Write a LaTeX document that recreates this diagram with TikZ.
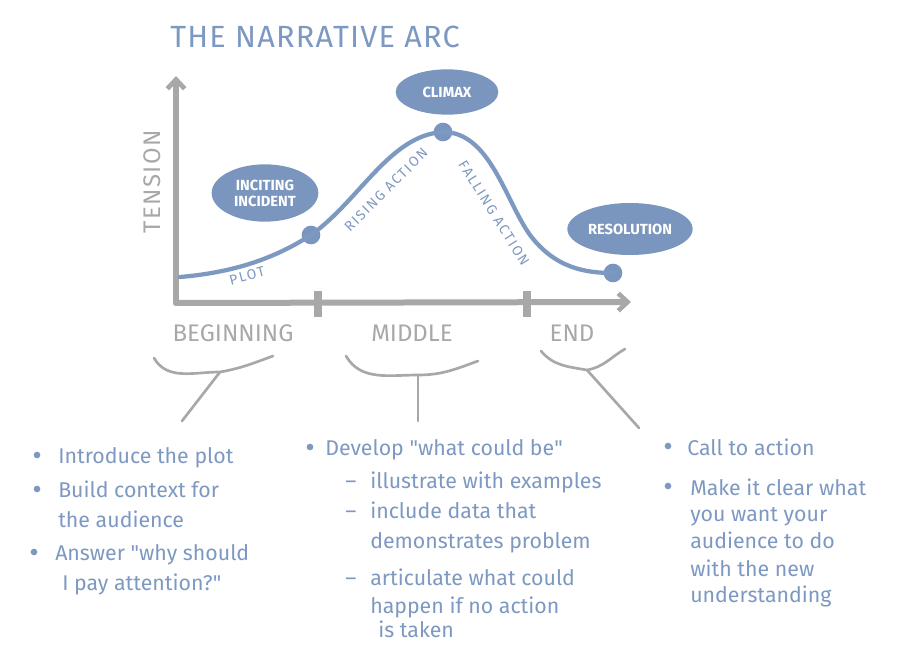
\documentclass[tikz,border=0pt]{standalone}
\usepackage{fontspec}
\setmainfont{Fira Sans}
\usetikzlibrary{shapes.geometric,arrows.meta}
\definecolor{arcblue}{HTML}{7D98C1}
\definecolor{blobblue}{HTML}{7A96BF}
\definecolor{axisgray}{HTML}{A8A8A8}
\begin{document}
\begin{tikzpicture}[x=0.75pt,y=-0.75pt,
  blob/.style={ellipse, fill=blobblue, text=white, font=\fontsize{11}{12}\selectfont\bfseries, inner sep=0pt, align=center},
  dot/.style={circle, fill=blobblue, minimum size=14pt, inner sep=0pt},
  axisline/.style={draw=axisgray, line width=4.5pt, line cap=round},
  brace/.style={draw=axisgray, line width=2pt, line cap=round},
  curve/.style={draw=arcblue, line width=3.2pt, line cap=round},
  txt/.style={anchor=base west, inner sep=0pt, text=arcblue, font=\fontsize{16}{18}\selectfont},
  bul/.style={circle, fill=arcblue, minimum size=5pt, inner sep=0pt},
  axlabel/.style={text=axisgray, font=\fontsize{18}{20}\selectfont, anchor=base, inner sep=0pt},
  curvelabel/.style={text=arcblue, font=\fontsize{10.5}{12}\selectfont\addfontfeature{LetterSpace=12}, inner sep=0pt}
]
\useasboundingbox (0,0) rectangle (921,656);

% title
\node[anchor=base west, inner sep=0pt, text=arcblue, font=\fontsize{23}{25}\selectfont\addfontfeature{LetterSpace=4}] (title) at (170,48) {THE NARRATIVE ARC};

% axes
\coordinate (origin) at (176,303);
\coordinate (ytop) at (176,76);
\coordinate (xend) at (631,302);
\draw[axisline, -{Straight Barb[length=7pt,width=13pt,line width=3.5pt]}] (origin) -- (ytop);
\draw[axisline, -{Straight Barb[length=7pt,width=13pt,line width=3.5pt]}] (origin) -- (xend);
\coordinate (t1a) at (318,291); \coordinate (t1b) at (318,317);
\coordinate (t2a) at (527,291); \coordinate (t2b) at (527,317);
\draw[axisline, line width=5.5pt, line cap=butt] (t1a) -- (t1b);
\draw[axisline, line width=5.5pt, line cap=butt] (t2a) -- (t2b);

\node[text=axisgray, font=\fontsize{18}{20}\selectfont\addfontfeature{LetterSpace=6}, rotate=90, inner sep=0pt] (tension) at (152,182) {TENSION};

% axis labels
\node[axlabel] (beg) at (233,341) {BEGINNING};
\node[axlabel] (mid) at (412,341) {MIDDLE};
\node[axlabel] (endl) at (572,341) {END};

% curve
\coordinate (cstart) at (180,277);
\node[dot] (d1) at (311,235) {};
\node[dot] (d2) at (443,132) {};
\node[dot] (d3) at (613,273) {};
\draw[curve] (cstart) .. controls (240,272) and (280,255) .. (d1.center)
  .. controls (360,200) and (390,135) .. (d2.center)
  .. controls (490,132) and (505,200) .. (530,235)
  .. controls (555,268) and (585,273) .. (d3.center);

% curve labels
\node[curvelabel, rotate=15] (plot) at (247,276) {PLOT};
\node[curvelabel, rotate=45] (rising) at (386,190) {RISING ACTION};
\node[curvelabel, rotate=-58] (falling) at (494,213) {FALLING ACTION};

% blobs
\node[blob, minimum width=77pt, minimum height=34pt] (climax) at (447,92) {CLIMAX};
\node[blob, minimum width=80pt, minimum height=43pt] (inciting) at (265,193) {INCITING\\INCIDENT};
\node[blob, minimum width=94pt, minimum height=39pt] (resolution) at (630,229) {RESOLUTION};

% braces
\coordinate (b1l) at (154,358); \coordinate (b1j) at (220,372); \coordinate (b1r) at (273,356); \coordinate (b1s) at (182,421);
\draw[brace] (b1l) to[out=-60,in=180] (b1j) to[out=10,in=200] (b1r);
\draw[brace] (b1j) -- (b1s);
\coordinate (b2l) at (346,356); \coordinate (b2j) at (418,375); \coordinate (b2r) at (478,361); \coordinate (b2s) at (418,421);
\draw[brace] (b2l) to[out=-60,in=180] (b2j) to[out=0,in=200] (b2r);
\draw[brace] (b2j) -- (b2s);
\coordinate (b3l) at (541,351); \coordinate (b3j) at (587,370); \coordinate (b3r) at (625,349); \coordinate (b3s) at (639,428);
\draw[brace] (b3l) to[out=-50,in=170] (b3j) to[out=10,in=210] (b3r);
\draw[brace] (b3j) -- (b3s);

% column 1
\node[bul] (c1b1) at (37,455) {};
\node[txt] (c1l1) at (58,463) {Introduce the plot};
\node[bul] (c1b2) at (37,489) {};
\node[txt] (c1l2) at (58,497) {Build context for};
\node[txt] (c1l3) at (58,527) {the audience};
\node[bul] (c1b3) at (34,552) {};
\node[txt] (c1l4) at (55,560) {Answer \textquotedbl why should};
\node[txt] (c1l5) at (62,590) {I pay attention?\textquotedbl};

% column 2
\node[bul] (c2b1) at (310,447) {};
\node[txt] (c2l1) at (325,455) {Develop \textquotedbl what could be\textquotedbl};
\node[txt] (c2d1) at (345,488) {–};
\node[txt] (c2l2) at (370,488) {illustrate with examples};
\node[txt] (c2d2) at (345,518) {–};
\node[txt] (c2l3) at (370,518) {include data that};
\node[txt] (c2l4) at (370,548) {demonstrates problem};
\node[txt] (c2d3) at (345,585) {–};
\node[txt] (c2l5) at (370,585) {articulate what could};
\node[txt] (c2l6) at (370,613) {happen if no action};
\node[txt] (c2l7) at (378,637) {is taken};

% column 3
\node[bul] (c3b1) at (668,446) {};
\node[txt] (c3l1) at (687,455) {Call to action};
\node[bul] (c3b2) at (668,486) {};
\node[txt] (c3l2) at (690,495) {Make it clear what};
\node[txt] (c3l3) at (690,521) {you want your};
\node[txt] (c3l4) at (690,548) {audience to do};
\node[txt] (c3l5) at (690,576) {with the new};
\node[txt] (c3l6) at (690,602) {understanding};
\end{tikzpicture}
\end{document}
